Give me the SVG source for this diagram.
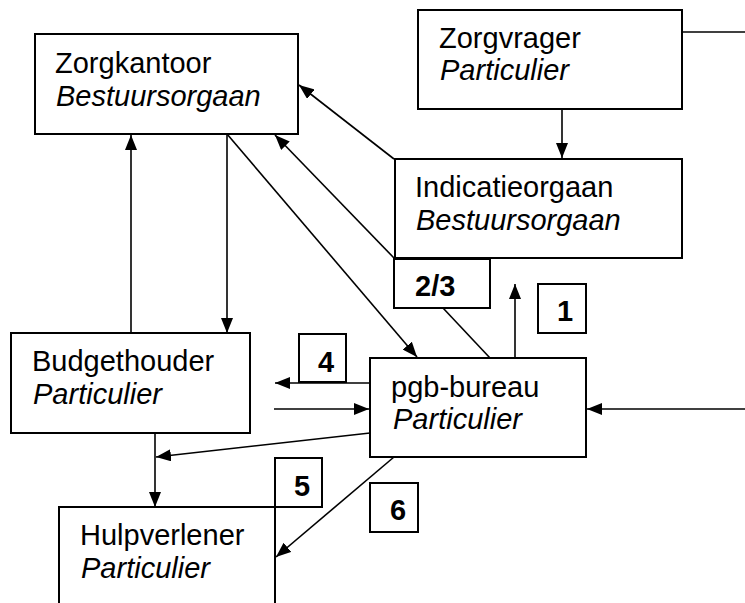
<svg xmlns="http://www.w3.org/2000/svg" width="745" height="603" viewBox="0 0 745 603">
<style>
.box{fill:none;stroke:#000;stroke-width:2}
.t{font-family:"Liberation Sans",Arial,sans-serif;font-size:29px;fill:#000}
.i{font-style:italic}
.b{font-weight:bold}
.c{fill:none;stroke:#000;stroke-width:1.6}
</style>
<defs>
<marker id="ah" markerUnits="userSpaceOnUse" markerWidth="15" markerHeight="12" refX="15" refY="6" orient="auto">
<path d="M0,0 L15,6 L0,12 z" fill="#000"/>
</marker>
</defs>
<rect width="745" height="603" fill="#fff"/>
<g id="connectors">
<line class="c" x1="682" y1="32" x2="745" y2="32"/>
<line class="c" x1="562" y1="109" x2="562" y2="158" marker-end="url(#ah)"/>
<line class="c" x1="394" y1="159" x2="299" y2="85" marker-end="url(#ah)"/>
<line class="c" x1="394" y1="258" x2="275" y2="135" marker-end="url(#ah)"/>
<line class="c" x1="227" y1="134" x2="417" y2="357" marker-end="url(#ah)"/>
<line class="c" x1="227" y1="134" x2="227" y2="333" marker-end="url(#ah)"/>
<line class="c" x1="131" y1="333" x2="131" y2="135" marker-end="url(#ah)"/>
<line class="c" x1="443" y1="308" x2="490" y2="358"/>
<line class="c" x1="515" y1="358" x2="515" y2="284" marker-end="url(#ah)"/>
<line class="c" x1="745" y1="409" x2="587" y2="409" marker-end="url(#ah)"/>
<line class="c" x1="370" y1="383" x2="275" y2="383" marker-end="url(#ah)"/>
<line class="c" x1="274" y1="409" x2="369" y2="409" marker-end="url(#ah)"/>
<line class="c" x1="370" y1="433" x2="156" y2="457" marker-end="url(#ah)"/>
<line class="c" x1="155" y1="433" x2="155" y2="507" marker-end="url(#ah)"/>
<line class="c" x1="394" y1="457" x2="276" y2="557" marker-end="url(#ah)"/>
</g>
<g id="zorgkantoor">
<rect class="box" x="35" y="34" width="263" height="100"/>
<text class="t" x="55" y="73">Zorgkantoor</text>
<text class="t i" x="56" y="106">Bestuursorgaan</text>
</g>
<g id="zorgvrager">
<rect class="box" x="418" y="10" width="264" height="99"/>
<text class="t" x="439" y="48">Zorgvrager</text>
<text class="t i" x="440" y="80">Particulier</text>
</g>
<g id="indicatieorgaan">
<rect class="box" x="395" y="159" width="287" height="99"/>
<text class="t" x="415" y="197">Indicatieorgaan</text>
<text class="t i" x="416" y="230">Bestuursorgaan</text>
</g>
<g id="label-23">
<rect class="box" x="394" y="259" width="96" height="49"/>
<text class="t b" x="415" y="296">2/3</text>
</g>
<g id="label-1">
<rect class="box" x="538" y="284" width="48" height="49"/>
<text class="t b" x="557" y="321">1</text>
</g>
<g id="pgb-bureau">
<rect class="box" x="370" y="358" width="216" height="99"/>
<text class="t" x="391" y="397">pgb-bureau</text>
<text class="t i" x="393" y="429">Particulier</text>
</g>
<g id="label-4">
<rect class="box" x="299" y="334" width="47" height="48"/>
<text class="t b" x="318" y="372">4</text>
</g>
<g id="budgethouder">
<rect class="box" x="11" y="333" width="239" height="100"/>
<text class="t" x="32" y="371">Budgethouder</text>
<text class="t i" x="33" y="404">Particulier</text>
</g>
<g id="hulpverlener">
<rect class="box" x="59" y="507" width="216" height="120"/>
<text class="t" x="80" y="545">Hulpverlener</text>
<text class="t i" x="81" y="578">Particulier</text>
</g>
<g id="label-5">
<rect class="box" x="275" y="458" width="47" height="49"/>
<text class="t b" x="294" y="496">5</text>
</g>
<g id="label-6">
<rect class="box" x="370" y="483" width="48" height="49"/>
<text class="t b" x="390" y="520">6</text>
</g>
</svg>
